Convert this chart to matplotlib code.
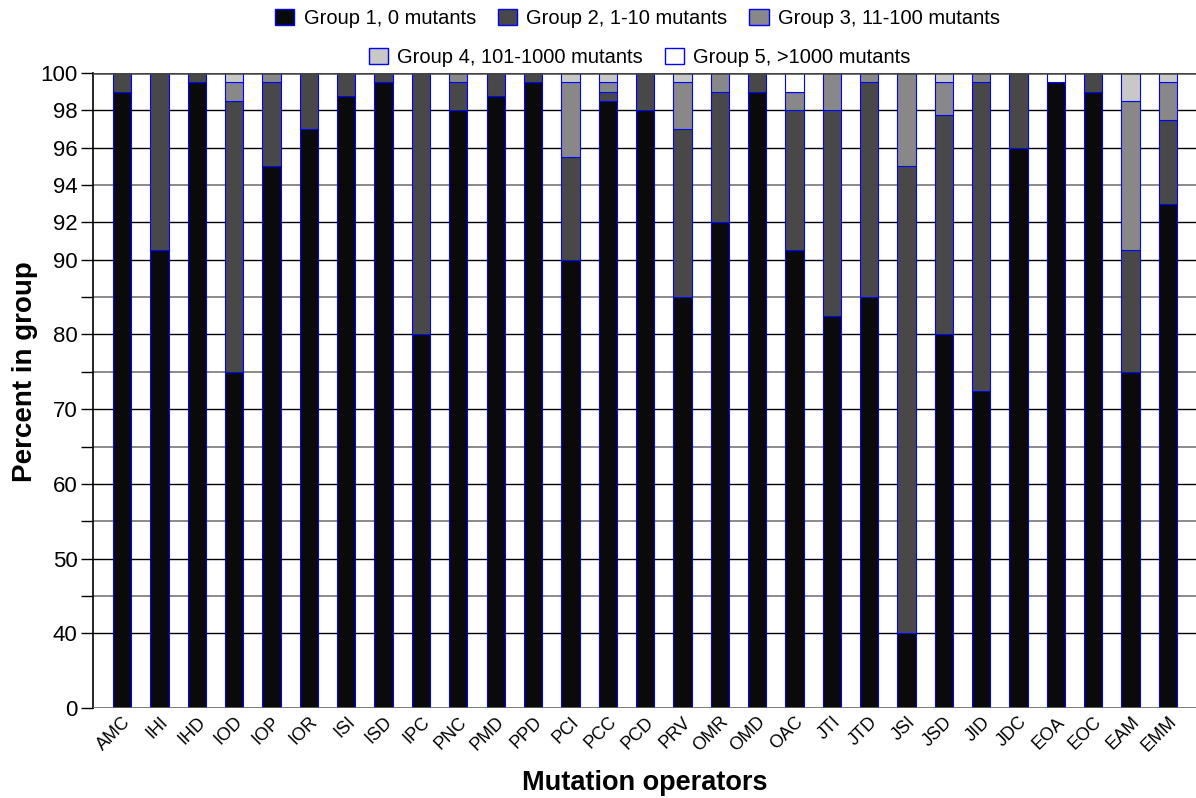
import numpy as np
import matplotlib
matplotlib.use("Agg")
import matplotlib.pyplot as plt
from matplotlib.patches import Patch

plt.rcParams['font.family'] = ['Liberation Sans', 'DejaVu Sans']

operators = ["AMC", "IHI", "IHD", "IOD", "IOP", "IOR", "ISI", "ISD", "IPC", "PNC",
             "PMD", "PPD", "PCI", "PCC", "PCD", "PRV", "OMR", "OMD", "OAC", "JTI",
             "JTD", "JSI", "JSD", "JID", "JDC", "EOA", "EOC", "EAM", "EMM"]

group1 = [99, 90.5, 99.5, 75, 95, 97, 98.75, 99.5, 80, 98,
          98.75, 99.5, 90, 98.5, 98, 85, 92, 99, 90.5, 82.5,
          85, 40, 80, 72.5, 96, 99.5, 99, 75, 93]
group2 = [1, 9.5, 0.5, 23.5, 4.5, 3, 1.25, 0.5, 20, 1.5,
          1.25, 0.5, 5.5, 0.5, 2, 12, 7, 1, 7.5, 15.5,
          14.5, 55, 17.75, 27, 4, 0, 1, 15.5, 4.5]
group3 = [0, 0, 0, 1, 0.5, 0, 0, 0, 0, 0.5,
          0, 0, 4, 0.5, 0, 2.5, 1, 0, 1, 2,
          0.5, 5, 1.75, 0.5, 0, 0, 0, 8, 2]
group4 = [0, 0, 0, 0.5, 0, 0, 0, 0, 0, 0,
          0, 0, 0.5, 0.5, 0, 0.5, 0, 0, 0, 0,
          0, 0, 0.5, 0, 0, 0, 0, 1.5, 0.5]
group5 = [0, 0, 0, 0, 0, 0, 0, 0, 0, 0,
          0, 0, 0, 0, 0, 0, 0, 0, 1, 0,
          0, 0, 0, 0, 0, 0.5, 0, 0, 0]

group_labels = ["Group 1, 0 mutants", "Group 2, 1-10 mutants", "Group 3, 11-100 mutants",
                "Group 4, 101-1000 mutants", "Group 5, >1000 mutants"]
colors = ["#0a0a0a", "#484848", "#888888", "#c8c8c8", "#ffffff"]

# piecewise axis: 0-40 squeezed, 90-100 stretched
pts_val = [0, 40, 90, 100]
pts_pix = [0, 75, 450, 637.5]

def fwd(y):
    return np.interp(y, pts_val, pts_pix)

def inv(p):
    return np.interp(p, pts_pix, pts_val)

fig = plt.figure(figsize=(11.96, 7.98), dpi=100)
ax = fig.add_axes([93 / 1196, 90 / 798, 1 - 93 / 1196, 635 / 798])
ax.set_yscale('function', functions=(fwd, inv))

x = np.arange(len(operators))
bottom = np.zeros(len(operators))
for vals, col, lab in zip([group1, group2, group3, group4, group5], colors, group_labels):
    vals = np.array(vals, dtype=float)
    ax.bar(x, vals, 0.49, bottom=bottom, color=col, edgecolor="#0000ff",
           linewidth=0.8, label=lab, zorder=3)
    bottom += vals

# grid lines
for v in [40, 50, 60, 70, 80, 90, 92, 96, 98]:
    ax.axhline(v, color="black", lw=1, zorder=1)
for v in [45, 55, 65, 75, 85, 94]:
    ax.axhline(v, color="#777777", lw=1.2, zorder=1)
ax.axhline(0, color="#666666", lw=1.2, zorder=4)
ax.axhline(100, color="#444444", lw=1.8, zorder=4)

ax.set_ylim(0, 100)
ax.set_xlim(-0.78, 28.75)
major = [0, 40, 50, 60, 70, 80, 90, 92, 94, 96, 98, 100]
ax.set_yticks(major)
ax.set_yticklabels([str(v) for v in major], fontsize=16)
ax.set_yticks([45, 55, 65, 75, 85], minor=True)
ax.tick_params(axis='y', which='both', length=9, width=1, direction='out', pad=2)
ax.set_xticks(x)
ax.set_xticklabels(operators, rotation=45, ha='right', rotation_mode='anchor', fontsize=13)
ax.tick_params(axis='x', length=0, pad=4)

for s in ["top", "right", "bottom"]:
    ax.spines[s].set_visible(False)
ax.spines["left"].set_bounds(-3, 100)
ax.spines["left"].set_linewidth(1.2)

ax.set_ylabel("Percent in group", fontsize=20, fontweight='bold')
ax.yaxis.set_label_coords(-0.05, 0.529)
fig.text(0.539, 1 - 790 / 798, "Mutation operators", fontsize=19.5, fontweight='bold',
         ha='center', va='baseline')

handles = [Patch(facecolor=c, edgecolor="#0000ff", label=l) for c, l in zip(colors, group_labels)]
fig.legend(handles=handles[:3], loc='upper center', bbox_to_anchor=(0.533, 1.012),
           ncol=3, frameon=False, fontsize=14.5, handlelength=0.95, handleheight=0.9,
           handletextpad=0.45, columnspacing=1.1)
fig.legend(handles=handles[3:], loc='upper center', bbox_to_anchor=(0.535, 0.963),
           ncol=2, frameon=False, fontsize=14.5, handlelength=0.95, handleheight=0.9,
           handletextpad=0.45, columnspacing=1.1)

fig.savefig("out.png", dpi=100)
